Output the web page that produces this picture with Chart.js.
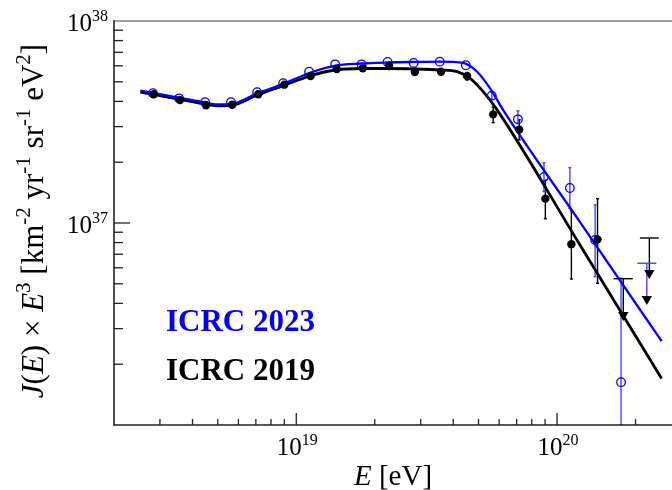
<!DOCTYPE html>
<html>
<head>
<meta charset="utf-8">
<script src="https://cdn.jsdelivr.net/npm/chart.js@4.4.1/dist/chart.umd.min.js"></script>
<style>
  html, body { margin: 0; padding: 0; background: #fff; overflow: hidden; }
</style>
</head>
<body>
<canvas id="spectrum" width="672" height="490"></canvas>
<script>
// ICRC 2023 points (open blue circles)
var energy2023 = [2.82e18, 3.55e18, 4.47e18, 5.62e18, 7.08e18, 8.91e18, 1.12e19, 1.41e19, 1.78e19, 2.24e19,
                  2.82e19, 3.55e19, 4.47e19, 5.62e19, 7.08e19, 8.91e19, 1.12e20, 1.40e20, 1.76e20];
var flux2023 = [4.39e37, 4.14e37, 3.96e37, 3.96e37, 4.44e37, 4.92e37, 5.61e37, 6.10e37, 6.10e37, 6.27e37,
                6.20e37, 6.29e37, 6.04e37, 4.27e37, 3.26e37, 1.69e37, 1.49e37, 8.24e36, 1.63e36];
var err2023Low  = [null, null, null, null, null, null, null, null, null, null,
                   null, null, null, 4.10e37, 3.13e37, 1.43e37, 1.18e37, 5.42e36, 1e36];
var err2023High = [null, null, null, null, null, null, null, null, null, null,
                   null, null, null, 4.45e37, 3.59e37, 1.99e37, 1.88e37, 1.23e37, 5.34e36];

// ICRC 2019 points (filled black circles)
var energy2019 = [2.84e18, 3.58e18, 4.51e18, 5.68e18, 7.15e18, 9.00e18, 1.135e19, 1.43e19, 1.80e19, 2.27e19,
                  2.85e19, 3.59e19, 4.52e19, 5.69e19, 7.16e19, 9.02e19, 1.135e20, 1.43e20];
var flux2019 = [4.34e37, 4.06e37, 3.83e37, 3.85e37, 4.34e37, 4.84e37, 5.34e37, 5.79e37, 5.83e37, 5.99e37,
                5.59e37, 5.61e37, 5.34e37, 3.45e37, 2.90e37, 1.32e37, 7.85e36, 8.30e36];
var err2019Low  = [null, null, null, null, null, null, null, null, null, null,
                   null, null, 5.10e37, 3.14e37, 2.58e37, 1.05e37, 5.28e36, 5.03e36];
var err2019High = [null, null, null, null, null, null, null, null, null, null,
                   null, null, 5.55e37, 3.75e37, 3.24e37, 1.63e37, 1.15e37, 1.32e37];

// upper limits
var ulEnergy2019 = [1.795e20, 2.26e20];
var ulValue2019 = [5.30e36, 8.43e36];
var ulArrow2019 = [3.50e36, 5.66e36];
var ulEnergy2023 = [2.21e20];
var ulValue2023 = [6.32e36];
var ulArrow2023 = [4.20e36];

// fitted spectra
var fitEnergy2023 = [2.525e18, 3.53e18, 4.48e18, 5.02e18, 5.64e18, 7.09e18, 8.92e18, 1.122e19, 1.411e19, 1.774e19,
                     2.233e19, 2.808e19, 3.562e19, 4.363e19, 4.937e19, 5.537e19, 6.21e19, 1.225e20, 2.518e20];
var fitFlux2023 = [4.52e37, 4.18e37, 3.95e37, 3.86e37, 3.88e37, 4.38e37, 4.88e37, 5.53e37, 6.02e37, 6.16e37,
                   6.23e37, 6.27e37, 6.30e37, 6.20e37, 5.61e37, 4.64e37, 3.63e37, 1.01e37, 2.60e36];
var fitEnergy2019 = [2.525e18, 3.53e18, 4.48e18, 5.02e18, 5.64e18, 7.09e18, 8.92e18, 1.122e19, 1.411e19, 1.774e19,
                     2.233e19, 2.808e19, 3.562e19, 4.14e19, 4.64e19, 5.21e19, 5.89e19, 1.225e20, 2.518e20];
var fitFlux2019 = [4.45e37, 4.11e37, 3.88e37, 3.80e37, 3.82e37, 4.30e37, 4.79e37, 5.34e37, 5.72e37, 5.82e37,
                   5.82e37, 5.79e37, 5.72e37, 5.61e37, 5.20e37, 4.47e37, 3.63e37, 7.78e36, 1.70e36];

// axes
var xMajorTicks = [1e19, 1e20];
var xMajorLabels = ['19', '20'];
var yMajorTicks = [1e37, 1e38];
var yMajorLabels = ['37', '38'];

var SERIF = '"Liberation Serif", "Times New Roman", serif';
var BLUE = '#0000ff';

function pts(xs, ys) {
    return xs.map(function (x, i) { return { x: x, y: ys[i] }; });
}

function line(ctx, x1, y1, x2, y2) {
    ctx.beginPath();
    ctx.moveTo(x1, y1);
    ctx.lineTo(x2, y2);
    ctx.stroke();
}

// draws runs of text: {t, sup, it}
function richText(ctx, parts, x, y, size, supSize, align, weight) {
    var w = 0;
    parts.forEach(function (p) {
        ctx.font = (p.it ? 'italic ' : '') + (weight || '') + ' ' + (p.sup ? supSize : size) + 'px ' + SERIF;
        p.w = ctx.measureText(p.t).width;
        w += p.w;
    });
    var cx = align === 'right' ? x - w : align === 'center' ? x - w / 2 : x;
    ctx.textAlign = 'left';
    ctx.textBaseline = 'alphabetic';
    parts.forEach(function (p) {
        ctx.font = (p.it ? 'italic ' : '') + (weight || '') + ' ' + (p.sup ? supSize : size) + 'px ' + SERIF;
        ctx.fillText(p.t, cx, p.sup ? y - size * 0.42 : y);
        cx += p.w;
    });
}

function drawBars(ctx, xs, ys, ex, lo, hi, color) {
    ctx.strokeStyle = color;
    ctx.lineWidth = 1.4;
    ex.forEach(function (e, i) {
        if (lo[i] == null) return;
        var px = xs.getPixelForValue(e);
        var y1 = ys.getPixelForValue(lo[i]), y2 = ys.getPixelForValue(hi[i]);
        line(ctx, px, y1, px, y2);
        line(ctx, px - 1.5, y1, px + 1.5, y1);
        line(ctx, px - 1.5, y2, px + 1.5, y2);
    });
}

function drawLimits(ctx, xs, ys, ex, val, arrow, color) {
    ctx.strokeStyle = color;
    ctx.lineWidth = 1.4;
    ex.forEach(function (e, i) {
        var px = xs.getPixelForValue(e);
        var y1 = ys.getPixelForValue(val[i]), y2 = ys.getPixelForValue(arrow[i]);
        line(ctx, px - 9.5, y1, px + 9.5, y1);
        line(ctx, px, y1, px, y2);
    });
}

var decorPlugin = {
    id: 'decor',
    beforeDatasetsDraw: function (chart) {
        var ctx = chart.ctx, a = chart.chartArea;
        var xs = chart.scales.x, ys = chart.scales.y;
        ctx.save();
        ctx.beginPath();
        ctx.rect(a.left, a.top, a.right - a.left, a.bottom - a.top);
        ctx.clip();
        drawBars(ctx, xs, ys, energy2019, err2019Low, err2019High, '#000');
        drawBars(ctx, xs, ys, energy2023, err2023Low, err2023High, '#4646ff');
        drawLimits(ctx, xs, ys, ulEnergy2019, ulValue2019, ulArrow2019, '#000');
        drawLimits(ctx, xs, ys, ulEnergy2023, ulValue2023, ulArrow2023, '#4646ff');
        ctx.restore();
    },
    afterDraw: function (chart) {
        var ctx = chart.ctx, a = chart.chartArea;
        var xs = chart.scales.x, ys = chart.scales.y;
        ctx.save();

        // frame
        ctx.lineWidth = 1.6;
        ctx.strokeStyle = '#808080';
        line(ctx, a.left, a.top, a.right, a.top);
        ctx.strokeStyle = '#222';
        line(ctx, a.left, a.top - 0.8, a.left, a.bottom + 0.8);
        line(ctx, a.left, a.bottom, a.right, a.bottom);

        // y ticks
        ctx.lineWidth = 1.3;
        for (var e = 36; e < 38; e++) {
            for (var m = 1; m <= 9; m++) {
                var v = m * Math.pow(10, e);
                if (v <= ys.min) continue;
                var py = ys.getPixelForValue(v);
                line(ctx, a.left, py, a.left + (m === 1 ? 16 : 9), py);
            }
        }
        // x ticks
        for (var ex = 18; ex <= 20; ex++) {
            for (var k = 1; k <= 9; k++) {
                var xv = k * Math.pow(10, ex);
                if (xv <= xs.min || xv >= xs.max) continue;
                var px = xs.getPixelForValue(xv);
                line(ctx, px, a.bottom, px, a.bottom - (k === 1 ? 12 : 6));
            }
        }

        ctx.fillStyle = '#000';
        yMajorTicks.forEach(function (v, i) {
            var py = ys.getPixelForValue(v);
            richText(ctx, [{ t: '10' }, { t: yMajorLabels[i], sup: true }], 108, py + 10, 25, 16, 'right');
        });
        xMajorTicks.forEach(function (v, i) {
            var px = xs.getPixelForValue(v);
            richText(ctx, [{ t: '10' }, { t: xMajorLabels[i], sup: true }], px + 1, 455, 25, 16, 'center');
        });

        // axis titles
        richText(ctx, [{ t: 'E', it: true }, { t: ' [eV]' }], 393, 485, 29, 19, 'center');
        ctx.save();
        ctx.translate(43, 221);
        ctx.rotate(-Math.PI / 2);
        richText(ctx, [
            { t: 'J', it: true }, { t: '(' }, { t: 'E', it: true }, { t: ') \u00d7 ' }, { t: 'E', it: true },
            { t: '3', sup: true }, { t: ' [km' }, { t: '-2', sup: true }, { t: ' yr' }, { t: '-1', sup: true },
            { t: ' sr' }, { t: '-1', sup: true }, { t: ' eV' }, { t: '2', sup: true }, { t: ']' }
        ], 0, 0, 31, 21, 'center');
        ctx.restore();

        // labels
        ctx.fillStyle = BLUE;
        richText(ctx, [{ t: 'ICRC 2023' }], 166, 331, 31, 20, 'left', 'bold');
        ctx.fillStyle = '#000';
        richText(ctx, [{ t: 'ICRC 2019' }], 166, 380, 31, 20, 'left', 'bold');

        ctx.restore();
    }
};

new Chart(document.getElementById('spectrum'), {
    type: 'scatter',
    data: {
        datasets: [
            {
                label: 'ICRC 2019',
                data: pts(energy2019, flux2019),
                pointRadius: 4.2,
                pointBackgroundColor: '#000',
                pointBorderWidth: 0,
                showLine: false
            },
            {
                label: 'ICRC 2019 limits',
                data: pts(ulEnergy2019, ulArrow2019),
                pointStyle: 'triangle',
                rotation: 180,
                pointRadius: 6,
                pointBackgroundColor: '#000',
                pointBorderWidth: 0,
                showLine: false
            },
            {
                label: 'ICRC 2023 limits',
                data: pts(ulEnergy2023, ulArrow2023),
                pointStyle: 'triangle',
                rotation: 180,
                pointRadius: 6,
                pointBackgroundColor: '#000',
                pointBorderWidth: 0,
                showLine: false
            },
            {
                label: 'ICRC 2023',
                data: pts(energy2023, flux2023),
                pointRadius: 4.3,
                pointBackgroundColor: 'rgba(0,0,0,0)',
                pointBorderColor: BLUE,
                pointBorderWidth: 1.3,
                showLine: false
            },
            {
                label: 'fit 2023',
                data: pts(fitEnergy2023, fitFlux2023),
                showLine: true,
                pointRadius: 0,
                borderColor: BLUE,
                borderWidth: 2.3,
                cubicInterpolationMode: 'monotone'
            },
            {
                label: 'fit 2019',
                data: pts(fitEnergy2019, fitFlux2019),
                showLine: true,
                pointRadius: 0,
                borderColor: '#000',
                borderWidth: 2.8,
                cubicInterpolationMode: 'monotone'
            }
        ]
    },
    options: {
        responsive: false,
        animation: false,
        layout: { autoPadding: false, padding: { left: 114, top: 21, right: 0, bottom: 65 } },
        plugins: { legend: { display: false }, tooltip: { enabled: false } },
        scales: {
            x: { type: 'logarithmic', min: 2e18, max: 2.76e20, display: false },
            y: { type: 'logarithmic', min: 1e36, max: 1e38, display: false }
        }
    },
    plugins: [decorPlugin]
});
</script>
</body>
</html>
